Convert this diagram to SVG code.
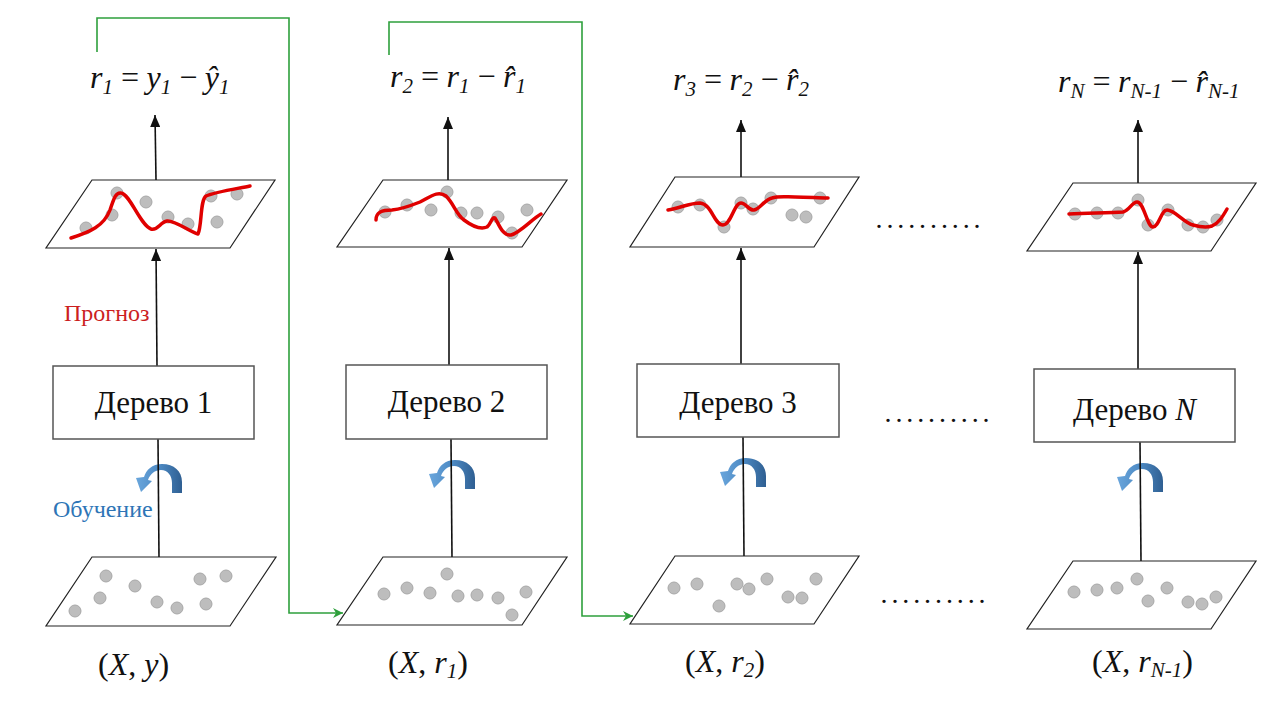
<svg xmlns="http://www.w3.org/2000/svg" width="1280" height="720" viewBox="0 0 1280 720">
<style>
text{font-family:"Liberation Serif","Times New Roman",serif;fill:#111}
.f{font-size:32px;font-style:italic;word-spacing:-2px}
.sub{font-size:21px;font-style:italic}
.lbl{font-size:32px}
.box{fill:#fff;stroke:#555;stroke-width:1.5}
.plane{fill:#fff;stroke:#222;stroke-width:1.2}
.pt{fill:#bdbdbd;stroke:#a8a8a8;stroke-width:1}
.curve{fill:none;stroke:#e00000;stroke-width:3.5;stroke-linecap:round;stroke-linejoin:round}
.ln{stroke:#111;stroke-width:1.6;fill:none}
.green{stroke:#2ea03c;stroke-width:1.6;fill:none}
.tree{font-size:31px;text-anchor:middle}
.dots{font-size:28px;letter-spacing:3.9px}
</style>
<defs>
<marker id="ah" viewBox="0 0 12 10" refX="12" refY="5" markerWidth="12" markerHeight="10" markerUnits="userSpaceOnUse" orient="auto"><path d="M0,0 L12,5 L0,10 Z" fill="#111"/></marker>
<marker id="gh" viewBox="0 0 10 10" refX="10" refY="5" markerWidth="10" markerHeight="10" markerUnits="userSpaceOnUse" orient="auto"><path d="M0,0 L10,5 L0,10 L3,5 Z" fill="#2ea03c"/></marker>
<linearGradient id="bg" x1="0" y1="0" x2="1" y2="0"><stop offset="0" stop-color="#6aa6dc"/><stop offset="0.5" stop-color="#4d8ac4"/><stop offset="1" stop-color="#2f5f92"/></linearGradient>
<path id="carr" d="M24,29 L24,18 C24,7 16,0 4,0 C-6,0 -12,6 -14,13 L-22,14 L-17,28 L-6,17 L-10,16 C-8,10 -3,6 3,6 C10,6 14,12 14,19 L14,29 Z" fill="url(#bg)"/>
</defs>

<g id="connectors">
<path class="green" d="M97,52 V18 H289 V613 H343" marker-end="url(#gh)"/>
<path class="green" d="M389,55 V22 H582 V616 H633" marker-end="url(#gh)"/>
<use href="#carr" x="158" y="464"/>
<use href="#carr" x="451" y="460"/>
<use href="#carr" x="742" y="458"/>
<use href="#carr" x="1139" y="463"/>
<line class="ln" x1="156" y1="180" x2="155" y2="115" marker-end="url(#ah)"/>
<line class="ln" x1="157" y1="366" x2="156" y2="249" marker-end="url(#ah)"/>
<line class="ln" x1="159" y1="557" x2="158" y2="439"/>
<line class="ln" x1="448" y1="180" x2="448" y2="117" marker-end="url(#ah)"/>
<line class="ln" x1="449" y1="365" x2="449" y2="248" marker-end="url(#ah)"/>
<line class="ln" x1="452" y1="557" x2="451" y2="439"/>
<line class="ln" x1="741" y1="177" x2="741" y2="120" marker-end="url(#ah)"/>
<line class="ln" x1="741" y1="364" x2="741" y2="248" marker-end="url(#ah)"/>
<line class="ln" x1="744" y1="556" x2="743" y2="437"/>
<line class="ln" x1="1138" y1="183" x2="1138" y2="120" marker-end="url(#ah)"/>
<line class="ln" x1="1138" y1="369" x2="1138" y2="252" marker-end="url(#ah)"/>
<line class="ln" x1="1141" y1="561" x2="1140" y2="442"/>
</g>

<g id="formula1"><text class="f" x="90" y="88">r<tspan class="sub" dy="6">1</tspan><tspan dy="-6"> = y</tspan><tspan class="sub" dy="6">1</tspan><tspan dy="-6"> − ŷ</tspan><tspan class="sub" dy="6">1</tspan></text></g>
<g id="formula2"><text class="f" x="390" y="87">r<tspan class="sub" dy="6">2</tspan><tspan dy="-6"> = r</tspan><tspan class="sub" dy="6">1</tspan><tspan dy="-6"> − r&#x302;</tspan><tspan class="sub" dy="6">1</tspan></text></g>
<g id="formula3"><text class="f" x="673" y="90">r<tspan class="sub" dy="6">3</tspan><tspan dy="-6"> = r</tspan><tspan class="sub" dy="6">2</tspan><tspan dy="-6"> − r&#x302;</tspan><tspan class="sub" dy="6">2</tspan></text></g>
<g id="formulaN"><text class="f" x="1058" y="92">r<tspan class="sub" dy="6">N</tspan><tspan dy="-6"> = r</tspan><tspan class="sub" dy="6">N-1</tspan><tspan dy="-6"> − r&#x302;</tspan><tspan class="sub" dy="6">N-1</tspan></text></g>

<g id="plot1">
<polygon class="plane" points="92,180 275,180 230,248 46,248"/>
<circle class="pt" cx="117" cy="193" r="6"/><circle class="pt" cx="112" cy="215" r="6"/><circle class="pt" cx="86" cy="228" r="6"/><circle class="pt" cx="146" cy="202" r="6"/><circle class="pt" cx="168" cy="217" r="6"/><circle class="pt" cx="188" cy="224" r="6"/><circle class="pt" cx="211" cy="196" r="6"/><circle class="pt" cx="237" cy="194" r="6"/><circle class="pt" cx="217" cy="222" r="6"/>
<path class="curve" d="M71,238 C90,232 104,226 110,210 C114,198 116,192 121,193 C130,194 140,225 151,229 C158,231 160,222 167,221 C175,220 190,232 198,234 C202,226 200,200 206,196 C215,192 235,189 250,186"/>
</g>
<g id="plot2">
<polygon class="plane" points="383,180 567,180 522,247 337,247"/>
<circle class="pt" cx="385" cy="212" r="6"/><circle class="pt" cx="407" cy="205" r="6"/><circle class="pt" cx="431" cy="210" r="6"/><circle class="pt" cx="447" cy="192" r="6"/><circle class="pt" cx="461" cy="213" r="6"/><circle class="pt" cx="477" cy="213" r="6"/><circle class="pt" cx="498" cy="217" r="6"/><circle class="pt" cx="512" cy="233" r="6"/><circle class="pt" cx="527" cy="210" r="6"/>
<path class="curve" d="M376,220 C376,212 382,210 392,210 C402,209 410,206 420,202 C430,197 438,190 446,196 C454,204 456,214 464,220 C472,226 480,230 487,227 C491,224 492,216 495,218 C498,222 502,236 511,235 C520,233 532,219 541,214"/>
</g>
<g id="plot3">
<polygon class="plane" points="675,177 859,177 814,247 630,247"/>
<circle class="pt" cx="678" cy="207" r="6"/><circle class="pt" cx="700" cy="205" r="6"/><circle class="pt" cx="724" cy="227" r="6"/><circle class="pt" cx="741" cy="203" r="6"/><circle class="pt" cx="753" cy="209" r="6"/><circle class="pt" cx="771" cy="198" r="6"/><circle class="pt" cx="792" cy="215" r="6"/><circle class="pt" cx="806" cy="217" r="6"/><circle class="pt" cx="820" cy="198" r="6"/>
<path class="curve" d="M668,210 C680,208 690,203 700,203 C712,204 714,225 723,225 C731,225 734,203 741,203 C746,203 749,211 754,210 C760,209 764,200 772,198 C778,196 786,197 795,197 C808,197 818,198 828,198"/>
</g>
<g id="plotN">
<polygon class="plane" points="1073,183 1256,183 1211,251 1027,251"/>
<circle class="pt" cx="1075" cy="214" r="6"/><circle class="pt" cx="1097" cy="213" r="6"/><circle class="pt" cx="1118" cy="213" r="6"/><circle class="pt" cx="1138" cy="200" r="6"/><circle class="pt" cx="1148" cy="225" r="6"/><circle class="pt" cx="1168" cy="210" r="6"/><circle class="pt" cx="1188" cy="225" r="6"/><circle class="pt" cx="1203" cy="227" r="6"/><circle class="pt" cx="1217" cy="220" r="6"/>
<path class="curve" d="M1069,214 C1090,213 1110,213 1123,212 C1130,210 1132,202 1137,202 C1144,202 1147,227 1153,227 C1159,227 1161,210 1167,210 C1175,210 1183,222 1193,225 C1200,227 1206,228 1212,226 C1219,223 1223,216 1227,209"/>
</g>

<g id="tree1"><rect class="box" x="53" y="366" width="201" height="73"/><text class="tree" x="153.5" y="413">Дерево 1</text></g>
<g id="tree2"><rect class="box" x="346" y="365" width="201" height="74"/><text class="tree" x="446.5" y="412">Дерево 2</text></g>
<g id="tree3"><rect class="box" x="637" y="364" width="202" height="73"/><text class="tree" x="738" y="413">Дерево 3</text></g>
<g id="treeN"><rect class="box" x="1034" y="369" width="201" height="73"/><text class="tree" x="1134.5" y="420">Дерево <tspan font-style="italic">N</tspan></text></g>

<g id="data1">
<polygon class="plane" points="92,557 276,557 230,626 46,626"/>
<circle class="pt" cx="106" cy="576" r="6"/><circle class="pt" cx="100" cy="598" r="6"/><circle class="pt" cx="75" cy="611" r="6"/><circle class="pt" cx="135" cy="586" r="6"/><circle class="pt" cx="157" cy="602" r="6"/><circle class="pt" cx="177" cy="608" r="6"/><circle class="pt" cx="200" cy="579" r="6"/><circle class="pt" cx="226" cy="576" r="6"/><circle class="pt" cx="206" cy="604" r="6"/>
<text class="lbl" x="98" y="675">(<tspan font-style="italic">X</tspan>, <tspan font-style="italic">y</tspan>)</text>
</g>
<g id="data2">
<polygon class="plane" points="383,557 567,557 522,625 337,625"/>
<circle class="pt" cx="384" cy="594" r="6"/><circle class="pt" cx="407" cy="588" r="6"/><circle class="pt" cx="430" cy="593" r="6"/><circle class="pt" cx="447" cy="574" r="6"/><circle class="pt" cx="458" cy="596" r="6"/><circle class="pt" cx="477" cy="595" r="6"/><circle class="pt" cx="498" cy="598" r="6"/><circle class="pt" cx="526" cy="592" r="6"/><circle class="pt" cx="512" cy="615" r="6"/>
<text class="lbl" x="388" y="673">(<tspan font-style="italic">X</tspan>, <tspan font-style="italic">r</tspan><tspan class="sub" dy="5">1</tspan><tspan dy="-5">)</tspan></text>
</g>
<g id="data3">
<polygon class="plane" points="675,556 859,556 814,624 630,624"/>
<circle class="pt" cx="674" cy="588" r="6"/><circle class="pt" cx="697" cy="584" r="6"/><circle class="pt" cx="719" cy="606" r="6"/><circle class="pt" cx="737" cy="584" r="6"/><circle class="pt" cx="749" cy="589" r="6"/><circle class="pt" cx="767" cy="579" r="6"/><circle class="pt" cx="788" cy="597" r="6"/><circle class="pt" cx="802" cy="598" r="6"/><circle class="pt" cx="816" cy="579" r="6"/>
<text class="lbl" x="685" y="672">(<tspan font-style="italic">X</tspan>, <tspan font-style="italic">r</tspan><tspan class="sub" dy="5">2</tspan><tspan dy="-5">)</tspan></text>
</g>
<g id="dataN">
<polygon class="plane" points="1073,561 1256,561 1211,629 1027,629"/>
<circle class="pt" cx="1074" cy="592" r="6"/><circle class="pt" cx="1097" cy="590" r="6"/><circle class="pt" cx="1117" cy="588" r="6"/><circle class="pt" cx="1137" cy="579" r="6"/><circle class="pt" cx="1148" cy="601" r="6"/><circle class="pt" cx="1167" cy="588" r="6"/><circle class="pt" cx="1188" cy="602" r="6"/><circle class="pt" cx="1202" cy="604" r="6"/><circle class="pt" cx="1216" cy="597" r="6"/>
<text class="lbl" x="1092" y="672">(<tspan font-style="italic">X</tspan>, <tspan font-style="italic">r</tspan><tspan class="sub" dy="5">N-1</tspan><tspan dy="-5">)</tspan></text>
</g>

<g id="labels">
<text x="64" y="321" font-size="24" style="fill:#cc1f1f">Прогноз</text>
<text x="53" y="517" font-size="24" style="fill:#2e75b6">Обучение</text>
<text class="dots" x="875.5" y="228">..........</text>
<text class="dots" x="884.5" y="422">..........</text>
<text class="dots" x="880.5" y="603">..........</text>
</g>
</svg>
